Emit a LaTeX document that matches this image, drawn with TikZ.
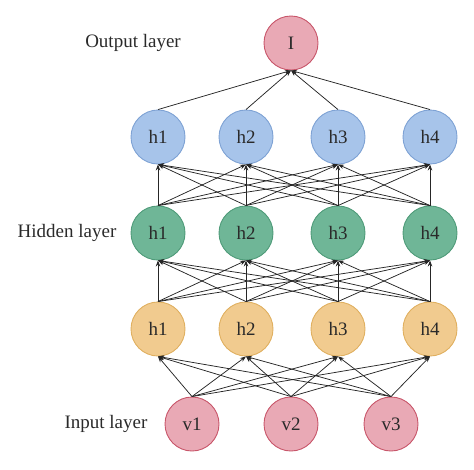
\documentclass[tikz,border=0pt]{standalone}
\usepackage{fontspec}
\setmainfont{Liberation Serif}
\usetikzlibrary{arrows.meta}
\definecolor{bluef}{HTML}{A7C4EA}
\definecolor{blued}{HTML}{7EA2D4}
\definecolor{greenf}{HTML}{6FB697}
\definecolor{greend}{HTML}{4F9B79}
\definecolor{orangef}{HTML}{F1CB8F}
\definecolor{oranged}{HTML}{E0B060}
\definecolor{redf}{HTML}{E9A9B5}
\definecolor{redd}{HTML}{C8566A}
\definecolor{txt}{HTML}{2A2A2A}
\begin{document}
\begin{tikzpicture}[x=1pt,y=-1pt,
  neuron/.style={circle,minimum size=54pt,inner sep=0pt,line width=0.9pt,font=\fontsize{19}{21}\selectfont,text=txt},
  bl/.style={neuron,fill=bluef,draw=blued},
  gr/.style={neuron,fill=greenf,draw=greend},
  og/.style={neuron,fill=orangef,draw=oranged},
  rd/.style={neuron,fill=redf,draw=redd},
  lab/.style={font=\fontsize{19}{21}\selectfont,text=txt},
  conn/.style={-{Stealth[length=6pt,width=4.5pt]},line width=0.75pt,draw=black!85}]
\useasboundingbox (0,0) rectangle (474,469);
\node[rd] (o) at (291,43) {I};
\foreach \i/\x in {1/158,2/246,3/338,4/430}{
  \node[bl] (b\i) at (\x,137) {h\i};
  \node[gr] (g\i) at (\x,233) {h\i};
  \node[og] (y\i) at (\x,329) {h\i};
}
\foreach \i/\x in {1/192,2/291,3/391}{
  \node[rd] (v\i) at (\x,424) {v\i};
}
\node[lab] (lo) at (133,43) {Output layer};
\node[lab] (lh) at (67,233) {Hidden layer};
\node[lab] (li) at (106,424) {Input layer};
\foreach \i in {1,2,3,4}{
  \draw[conn] (b\i.north) -- (o.south);
  \foreach \j in {1,2,3,4}{
    \draw[conn] (g\i.north) -- (b\j.south);
    \draw[conn] (y\i.north) -- (g\j.south);
  }
  \foreach \k in {1,2,3}{
    \draw[conn] (v\k.north) -- (y\i.south);
  }
}
\end{tikzpicture}
\end{document}
